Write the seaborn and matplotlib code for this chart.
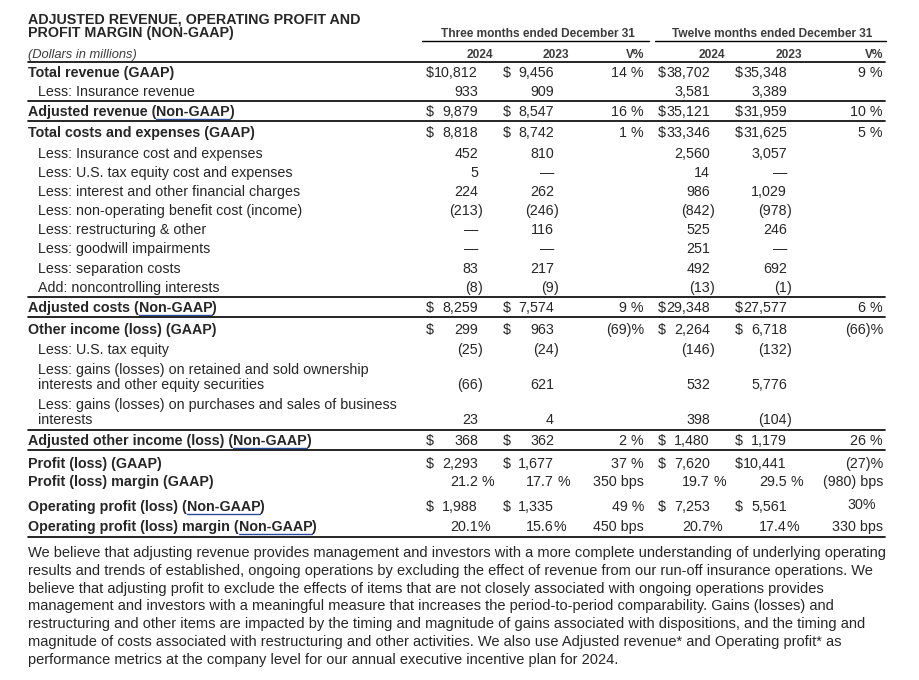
import matplotlib
matplotlib.use("Agg")
import matplotlib.pyplot as plt
from matplotlib import font_manager
import seaborn as sns

sns.set_theme(style="white")
plt.rcParams['font.family'] = ['Liberation Sans', 'DejaVu Sans']

# ---- table content ----
title_lines = ["ADJUSTED REVENUE, OPERATING PROFIT AND", "PROFIT MARGIN (NON-GAAP)"]
period_headers = ["Three months ended December 31", "Twelve months ended December 31"]
col_headers = ["2024", "2023", "V%", "2024", "2023", "V%"]
unit_note = "(Dollars in millions)"

row_labels = [
    "Total revenue (GAAP)",
    "Less: Insurance revenue",
    "Adjusted revenue (Non-GAAP)",
    "Total costs and expenses (GAAP)",
    "Less: Insurance cost and expenses",
    "Less: U.S. tax equity cost and expenses",
    "Less: interest and other financial charges",
    "Less: non-operating benefit cost (income)",
    "Less: restructuring & other",
    "Less: goodwill impairments",
    "Less: separation costs",
    "Add: noncontrolling interests",
    "Adjusted costs (Non-GAAP)",
    "Other income (loss) (GAAP)",
    "Less: U.S. tax equity",
    "Less: gains (losses) on retained and sold ownership\ninterests and other equity securities",
    "Less: gains (losses) on purchases and sales of business\ninterests",
    "Adjusted other income (loss) (Non-GAAP)",
    "Profit (loss) (GAAP)",
    "Profit (loss) margin (GAAP)",
    "Operating profit (loss) (Non-GAAP)",
    "Operating profit (loss) margin (Non-GAAP)",
]
bold_rows = [0, 2, 3, 12, 13, 17, 18, 19, 20, 21]

q4_2024 = ["$10,812", "933", "$9,879", "$8,818", "452", "5", "224", "(213)", "—", "—", "83", "(8)",
           "$8,259", "$299", "(25)", "(66)", "23", "$368", "$2,293", "21.2 %", "$1,988", "20.1%"]
q4_2023 = ["$9,456", "909", "$8,547", "$8,742", "810", "—", "262", "(246)", "116", "—", "217", "(9)",
           "$7,574", "$963", "(24)", "621", "4", "$362", "$1,677", "17.7 %", "$1,335", "15.6%"]
q4_var = ["14 %", "", "16 %", "1 %", "", "", "", "", "", "", "", "",
          "9 %", "(69)%", "", "", "", "2 %", "37 %", "350 bps", "49 %", "450 bps"]
fy_2024 = ["$38,702", "3,581", "$35,121", "$33,346", "2,560", "14", "986", "(842)", "525", "251", "492", "(13)",
           "$29,348", "$2,264", "(146)", "532", "398", "$1,480", "$7,620", "19.7 %", "$7,253", "20.7%"]
fy_2023 = ["$35,348", "3,389", "$31,959", "$31,625", "3,057", "—", "1,029", "(978)", "246", "—", "692", "(1)",
           "$27,577", "$6,718", "(132)", "5,776", "(104)", "$1,179", "$10,441", "29.5 %", "$5,561", "17.4%"]
fy_var = ["9 %", "", "10 %", "5 %", "", "", "", "", "", "", "", "",
          "6 %", "(66)%", "", "", "", "26 %", "(27)%", "(980) bps", "30%", "330 bps"]

footnote_lines = [
    "We believe that adjusting revenue provides management and investors with a more complete understanding of underlying operating",
    "results and trends of established, ongoing operations by excluding the effect of revenue from our run-off insurance operations. We",
    "believe that adjusting profit to exclude the effects of items that are not closely associated with ongoing operations provides",
    "management and investors with a meaningful measure that increases the period-to-period comparability. Gains (losses) and",
    "restructuring and other items are impacted by the timing and magnitude of gains associated with dispositions, and the timing and",
    "magnitude of costs associated with restructuring and other activities. We also use Adjusted revenue* and Operating profit* as",
    "performance metrics at the company level for our annual executive incentive plan for 2024.",
]

# ---- layout (pixel coordinates, y from top) ----
row_y = [72, 91, 111, 132, 153, 172, 191, 210, 229, 248, 268, 287, 307, 329, 349, 384, 419, 440, 463, 481, 506, 526]
rules = [62, 101, 121, 297, 317, 430, 450, 537]
LEFT, RIGHT = 28, 885
num_right = [478, 554, 644, 710, 787, 883]
dollar_x = [426, 503, None, 658, 735, None]
FS = 10.3
HEAD_COLOR = "#3c3c3c"
LINK_BLUE = "#2b4c9c"

# narrow font for column headers, if it exists
try:
    font_manager.findfont("Liberation Sans Narrow", fallback_to_default=False)
    head_family = ["Liberation Sans Narrow", "DejaVu Sans"]
    head_fs, note_fs = 10.3, 10.3
except Exception:
    head_family = ["Liberation Sans", "DejaVu Sans"]
    head_fs, note_fs = 8.6, 9.3

fig = plt.figure(figsize=(9.2, 6.8), dpi=100)
ax = fig.add_axes([0, 0, 1, 1])
ax.set_xlim(0, 920)
ax.set_ylim(680, 0)
ax.axis("off")
renderer = fig.canvas.get_renderer()


def base(y):
    # text centre -> baseline
    return y + 5


def draw_label(x, y, text, weight):
    # splits out "Non-GAAP" so it can get the blue underline
    if "Non-GAAP" not in text:
        ax.text(x, base(y), text, fontsize=FS, fontweight=weight, va="baseline", ha="left")
        return
    pre, post = text.split("Non-GAAP")
    t1 = ax.text(x, base(y), pre, fontsize=FS, fontweight=weight, va="baseline", ha="left")
    w1 = t1.get_window_extent(renderer).width
    t2 = ax.text(x + w1, base(y), "Non-GAAP", fontsize=FS, fontweight=weight, va="baseline", ha="left")
    w2 = t2.get_window_extent(renderer).width
    ax.plot([x + w1, x + w1 + w2], [base(y) + 2.5, base(y) + 2.5], color=LINK_BLUE, lw=1.0)
    ax.text(x + w1 + w2, base(y), post, fontsize=FS, fontweight=weight, va="baseline", ha="left")


def draw_value(col, y, s):
    if not s:
        return
    r = num_right[col]
    if dollar_x[col] is None:
        dy = -2 if s == "30%" else 0
        xr = r - 7 if s == "30%" else r
        ax.text(xr, base(y) + dy, s, fontsize=FS, va="baseline", ha="right")
        return
    if s.startswith("$"):
        ax.text(dollar_x[col], base(y), "$", fontsize=FS, va="baseline", ha="left")
        s = s[1:]
    suffix = ""
    for suf in [" %", "%", ")"]:
        if s.endswith(suf):
            s, suffix = s[: -len(suf)], suf
            break
    ax.text(r, base(y), s, fontsize=FS, va="baseline", ha="right")
    if suffix:
        ax.text(r, base(y), suffix, fontsize=FS, va="baseline", ha="left")


# title
for i, line in enumerate(title_lines):
    ax.text(LEFT, base(18 + 14 * i), line, fontsize=FS, fontweight="bold", va="baseline", ha="left")

# period headers with underline
for (x0, x1), txt in zip([(422, 649), (655, 886)], period_headers):
    ax.text((x0 + x1) / 2 + 2, base(32), txt, fontsize=head_fs, fontweight="bold", family=head_family,
            color=HEAD_COLOR, va="baseline", ha="center")
    ax.plot([x0, x1], [41, 41], color="black", lw=1.0)

# column headers
for c, h in enumerate(col_headers):
    xr = num_right[c] if dollar_x[c] is None else num_right[c] + 15
    ax.text(xr, base(53), h, fontsize=head_fs, fontweight="bold", family=head_family,
            color=HEAD_COLOR, va="baseline", ha="right")
ax.text(LEFT, base(53), unit_note, fontsize=note_fs, fontstyle="italic", family=head_family,
        color=HEAD_COLOR, va="baseline", ha="left")

# rows
columns = [q4_2024, q4_2023, q4_var, fy_2024, fy_2023, fy_var]
for i, label in enumerate(row_labels):
    bold = i in bold_rows
    x = LEFT if bold else LEFT + 10
    parts = label.split("\n")
    for k, part in enumerate(parts):
        yy = row_y[i] - 15 * (len(parts) - 1 - k)
        draw_label(x, yy, part, "bold" if bold else "normal")
    for c, col in enumerate(columns):
        draw_value(c, row_y[i], col[i])

# horizontal rules
for y in rules:
    ax.plot([LEFT, RIGHT], [y, y], color="black", lw=1.2)

# footnote paragraph
for i, line in enumerate(footnote_lines):
    ax.text(LEFT, base(552 + 17.8 * i), line, fontsize=10.5, va="baseline", ha="left")

fig.savefig("out.png", dpi=100, facecolor="white")
